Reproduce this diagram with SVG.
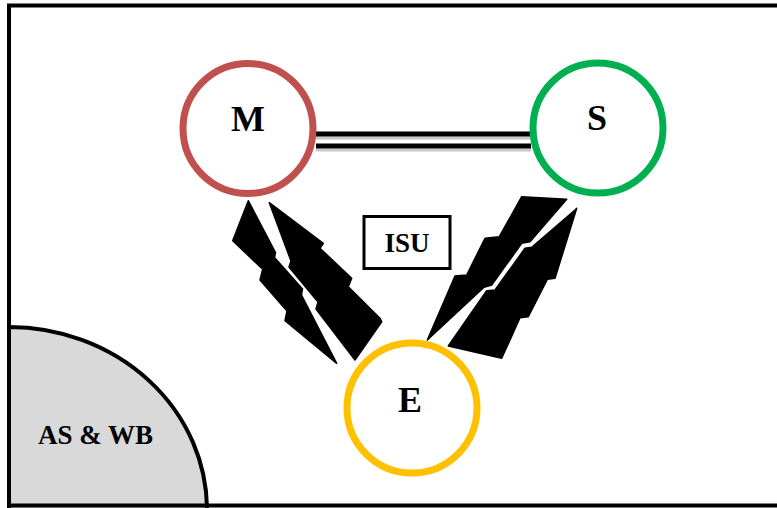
<svg xmlns="http://www.w3.org/2000/svg" width="777" height="508" viewBox="0 0 777 508">
  <style>
    .lbl { font-family: "Liberation Serif", "Times New Roman", serif; font-weight: bold; fill: #000; text-anchor: middle; }
    .big { font-size: 36px; }
    .small { font-size: 27px; }
    .node { fill: #fff; stroke-width: 7; }
    .bolt { fill: #000; stroke: #000; stroke-width: 1.5; stroke-linejoin: round; }
    .dbl { stroke: #000; stroke-width: 5; }
    .shd { stroke: #c8c8c8; stroke-width: 3; }
  </style>
  <rect x="0" y="0" width="777" height="508" fill="#fff"/>

  <g id="region-asw">
    <path d="M 9 327 A 198 183 0 0 1 207 510 L 9 510 Z" fill="#d9d9d9" stroke="#000" stroke-width="4"/>
    <text class="lbl small" x="95.5" y="444">AS &amp; WB</text>
  </g>

  <g id="frame">
    <rect x="9" y="5.5" width="800" height="500" fill="none" stroke="#000" stroke-width="4"/>
  </g>

  <g id="connectors">
    <line class="shd" x1="316" y1="138" x2="531" y2="138"/>
    <line class="shd" x1="316" y1="150" x2="531" y2="150"/>
    <line class="dbl" x1="316" y1="134" x2="531" y2="134"/>
    <line class="dbl" x1="316" y1="146" x2="531" y2="146"/>

    <polygon class="bolt" points="248.3,200.7 275.5,252.5 274.5,257.5 302.5,289 301.5,295 336.7,363.3 285,320.7 287,311 260,280 262.7,269.3 232.7,240.7"/>
    <polygon class="bolt" points="269.3,202.7 323.3,243.3 320,248.3 351.7,278.3 348.3,286.7 380,318.3 381.7,321.7 355,360 316,309 318,302 289,267 291,261"/>
    <polygon class="bolt" points="521.7,196.7 566.7,199.3 530,241.7 521.7,243.3 491.7,285 484,287.3 427.3,340 455,276 466.7,275 485,238.3 499.3,236.7"/>
    <polygon class="bolt" points="576.7,208.3 555,278.3 547.3,279.3 528.3,316.7 520,317.7 501.7,358.3 448.3,346 486.7,290.7 495,290 525,248.3 531.7,247.3 575,210"/>
  </g>

  <g id="node-M">
    <circle class="node" cx="248" cy="128.5" r="65" stroke="#c0504d"/>
    <text class="lbl big" x="248" y="131">M</text>
  </g>
  <g id="node-S">
    <circle class="node" cx="598" cy="128" r="65" stroke="#00b050"/>
    <text class="lbl big" x="597" y="130">S</text>
  </g>
  <g id="node-E">
    <circle class="node" cx="412" cy="408" r="65" stroke="#ffc000"/>
    <text class="lbl big" x="410" y="412">E</text>
  </g>
  <g id="node-ISU">
    <rect x="364" y="216.5" width="86" height="52" fill="#fff" stroke="#000" stroke-width="3"/>
    <text class="lbl small" x="407" y="252">ISU</text>
  </g>
</svg>
